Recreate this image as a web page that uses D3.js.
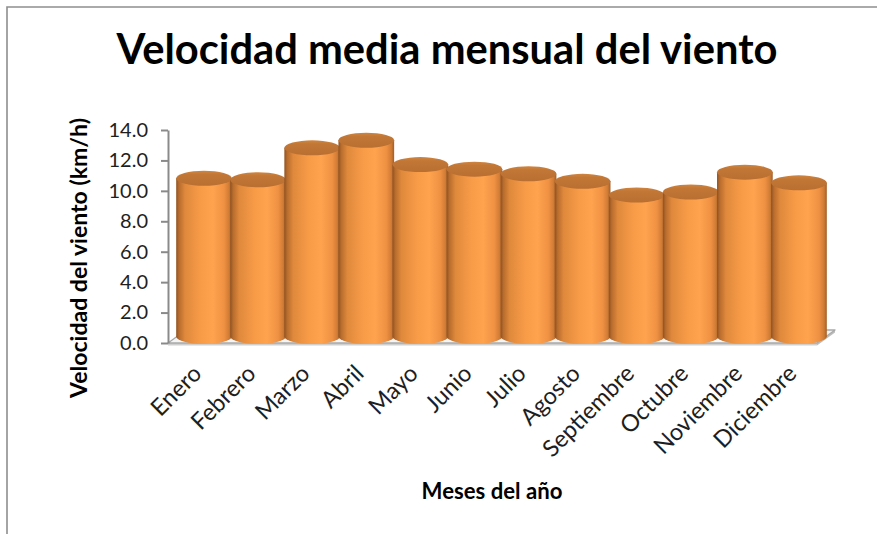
<!DOCTYPE html>
<html>
<head>
<meta charset="utf-8">
<script src="https://cdn.jsdelivr.net/npm/d3@7"></script>
<style>
  html, body { margin: 0; padding: 0; background: #fff; }
  svg { display: block; }
  text { font-family: Lato, "Open Sans", sans-serif; }
</style>
</head>
<body>
<svg id="chart" width="877" height="534"></svg>
<script>
// Monthly mean wind speed (km/h)
const meses = ["Enero", "Febrero", "Marzo", "Abril", "Mayo", "Junio",
               "Julio", "Agosto", "Septiembre", "Octubre", "Noviembre", "Diciembre"];
const velocidad = [10.4, 10.3, 12.4, 12.9, 11.3, 11.0, 10.7, 10.2, 9.3, 9.5, 10.8, 10.1];
const yTicks = [0, 2, 4, 6, 8, 10, 12, 14];

const titulo = "Velocidad media mensual del viento";
const tituloY = "Velocidad del viento (km/h)";
const tituloX = "Meses del año";

(function () {
const W = 877, H = 534;
const svg = d3.select("#chart");

// Front plane of the 3D plot area; depth goes up and to the right.
const plot = { left: 168, right: 817, top: 130, bottom: 343 };
const depth = { dx: 18, dy: -13 };

const x = d3.scaleBand().domain(meses).range([plot.left, plot.right]).padding(0);
const y = d3.scaleLinear().domain([0, 14]).range([plot.bottom, plot.top]);

// Fit a text element to a given width by adjusting font size
function fitWidth(sel, target) {
  const fs = parseFloat(sel.attr("font-size"));
  const w = sel.node().getComputedTextLength();
  sel.attr("font-size", (fs * target / w).toFixed(2));
}

// Chart frame
svg.append("path")
  .attr("d", `M7,${H + 2} L7,7 L${W + 2},7`)
  .attr("fill", "none")
  .attr("stroke", "#8e8e8e")
  .attr("stroke-width", 1.6);

// Gradients for cylinder shading
const defs = svg.append("defs");
const sideGrad = defs.append("linearGradient").attr("id", "cylSide")
  .attr("x1", 0).attr("x2", 1).attr("y1", 0).attr("y2", 0);
[
  [0, "#8f5222"], [0.05, "#b86c2d"], [0.16, "#df893c"], [0.45, "#f99c48"],
  [0.66, "#ffa34f"], [0.86, "#ef9142"], [0.95, "#cf7b35"], [1, "#a15d27"]
].forEach(([o, c]) => sideGrad.append("stop").attr("offset", o).attr("stop-color", c));

const topGrad = defs.append("linearGradient").attr("id", "cylTop")
  .attr("x1", 0).attr("x2", 0).attr("y1", 0).attr("y2", 1);
[[0, "#cf8541"], [0.25, "#c27736"], [1, "#b86f31"]]
  .forEach(([o, c]) => topGrad.append("stop").attr("offset", o).attr("stop-color", c));

// Floor of the plot area
const floor = svg.append("g");
const fl = plot.left, fr = plot.right, fb = y(0);
floor.append("path")
  .attr("d", `M${fl},${fb} L${fr},${fb} L${fr},${fb + 2.5} L${fl},${fb + 2.5} Z`)
  .attr("fill", "#cfcfcf");
floor.append("path")
  .attr("d", `M${fr},${fb} L${fr + depth.dx},${fb + depth.dy} L${fr + depth.dx},${fb + depth.dy + 2.5} L${fr},${fb + 2.5} Z`)
  .attr("fill", "#bdbdbd");
floor.append("path")
  .attr("d", `M${fl},${fb} L${fr},${fb} L${fr + depth.dx},${fb + depth.dy} L${fl + depth.dx},${fb + depth.dy} Z`)
  .attr("fill", "#f4f4f4")
  .attr("stroke", "#a9a9a9")
  .attr("stroke-width", 1.3)
  .attr("stroke-linejoin", "round");

// Cylinders
const bw = x.bandwidth();
const r = bw * 0.515;
const ry = 7.5;
const bars = svg.append("g");
meses.forEach((m, i) => {
  const cx = x(m) + bw / 2 + depth.dx / 2;
  const yb = y(0) + depth.dy / 2;
  const yt = y(velocidad[i]) + depth.dy / 2;
  const g = bars.append("g");
  g.append("path")
    .attr("d", `M${cx - r},${yt} L${cx - r},${yb} A${r},${ry} 0 0 0 ${cx + r},${yb} L${cx + r},${yt} Z`)
    .attr("fill", "url(#cylSide)");
  g.append("ellipse")
    .attr("cx", cx).attr("cy", yt)
    .attr("rx", r).attr("ry", ry)
    .attr("fill", "url(#cylTop)");
});

// Y axis
const yAxis = svg.append("g")
  .attr("transform", `translate(${plot.left},0)`)
  .call(d3.axisLeft(y).tickValues(yTicks).tickFormat(d3.format(".1f"))
    .tickSize(7).tickSizeOuter(0).tickPadding(13));
yAxis.select(".domain").attr("stroke", "#8a8a8a").attr("stroke-width", 2);
yAxis.selectAll(".tick line").attr("stroke", "#8a8a8a").attr("stroke-width", 2);
yAxis.selectAll(".tick text")
  .attr("font-family", "Lato, sans-serif")
  .attr("font-size", 20)
  .attr("fill", "#1e1e1e");

// X category labels, rotated
const xl = svg.append("g");
meses.forEach(m => {
  xl.append("text")
    .attr("transform", `translate(${x(m) + bw / 2 + 8},375) rotate(-45)`)
    .attr("text-anchor", "end")
    .attr("font-size", 18)
    .attr("fill", "#1e1e1e")
    .text(m);
});
{
  const probe = xl.selectAll("text").nodes().find(n => n.textContent === "Septiembre");
  const w = probe.getComputedTextLength();
  xl.selectAll("text").attr("font-size", (18 * 118 / w).toFixed(2));
}

// Title
const t = svg.append("text")
  .attr("x", 447).attr("y", 64)
  .attr("text-anchor", "middle")
  .attr("font-size", 40)
  .attr("font-weight", "bold")
  .attr("fill", "#000")
  .text(titulo);
fitWidth(t, 661);

// Y axis title
const ty = svg.append("text")
  .attr("transform", "translate(87,258) rotate(-90)")
  .attr("text-anchor", "middle")
  .attr("font-size", 18)
  .attr("font-weight", "bold")
  .attr("fill", "#000")
  .text(tituloY);
fitWidth(ty, 280);

// X axis title
const tx = svg.append("text")
  .attr("x", 492).attr("y", 499)
  .attr("text-anchor", "middle")
  .attr("font-size", 18)
  .attr("font-weight", "bold")
  .attr("fill", "#000")
  .text(tituloX);
fitWidth(tx, 141);
})();
</script>
</body>
</html>
